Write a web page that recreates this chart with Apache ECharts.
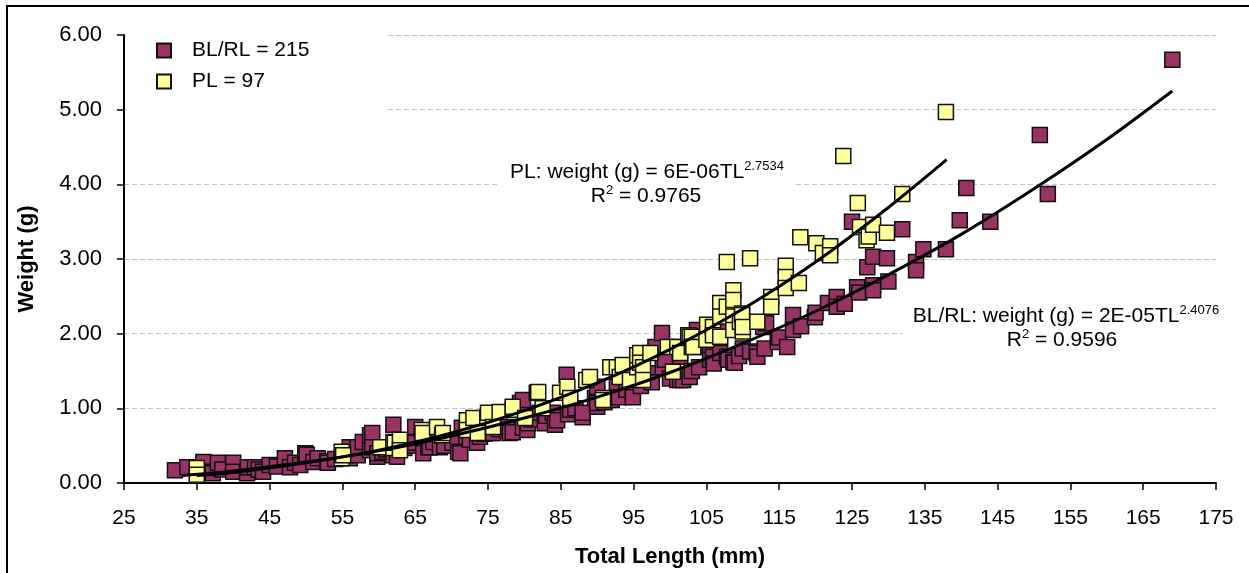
<!DOCTYPE html>
<html>
<head>
<meta charset="utf-8">
<script src="https://cdn.jsdelivr.net/npm/echarts@6/dist/echarts.min.js"></script>
<style>
html,body{margin:0;padding:0;background:#fff;}
#chart{width:1249px;height:573px;}
</style>
</head>
<body>
<div id="chart"></div>
<script>
// ---- data ----
const seriesNames = ['BL/RL = 215', 'PL = 97'];

const blrlPoints = [
  [32,0.17],[33.7,0.21],[35.9,0.28],[35.9,0.15],[37.2,0.13],[37.9,0.27],[38.5,0.18],[40,0.27],[40,0.15],
  [41.9,0.13],[42,0.21],[43,0.21],[43.5,0.18],[44.1,0.15],[45,0.24],[46,0.22],[47.1,0.33],[47.8,0.21],
  [48.5,0.27],[49.2,0.24],[49.9,0.40],[50.1,0.38],[51,0.28],[51.6,0.33],[52.9,0.29],[53,0.27],[54,0.32],
  [55,0.38],[56,0.48],[56,0.33],[57.1,0.37],[57.1,0.48],[57.8,0.55],[58.8,0.44],[58.8,0.64],[59.1,0.67],
  [59.1,0.48],[59.8,0.35],[59.8,0.40],[60.5,0.42],[61,0.45],[62,0.78],[62,0.37],[62.5,0.35],[63.5,0.47],
  [64,0.50],[65,0.75],[65,0.54],[66.1,0.40],[66.8,0.48],[67,0.48],[67.5,0.55],[68.4,0.48],[69,0.50],
  [70.1,0.54],[70.9,0.42],[71.2,0.40],[71.4,0.74],[72,0.62],[72.5,0.58],[73.5,0.54],[73.9,0.62],
  [74.5,0.66],[75.3,0.67],[75.7,0.67],[76.5,0.72],[77.6,0.71],[77.6,0.75],[78,0.67],[78.4,0.68],
  [79.4,1.07],[79.8,0.74],[79.8,1.11],[80.4,0.71],[80.5,0.80],[81,0.85],[81.7,1.21],[82.1,0.94],
  [82.8,0.80],[83,0.90],[83.9,0.94],[84.2,0.78],[84.5,0.84],[85.8,1.45],[86,0.92],[86.3,0.98],[87,1.00],
  [88,0.88],[88,0.94],[89.7,1.14],[90,1.21],[90,1.02],[90,1.29],[90,1.07],[91,1.08],[92,1.11],[92.7,1.29],
  [93,1.15],[94,1.25],[94.9,1.21],[94.9,1.15],[95.9,1.51],[96,1.30],[96.8,1.45],[97,1.47],[97.5,1.35],
  [98,1.82],[98.9,2.01],[99,1.55],[99.3,1.65],[100,1.40],[101,1.82],[101,1.38],[101.4,1.69],[101.4,1.38],
  [101.8,1.38],[102.7,1.42],[103,1.50],[103.7,2.05],[104,1.55],[105.1,1.82],[105.5,1.82],[105.5,1.65],
  [105.9,1.69],[106,1.60],[106.9,1.74],[107.3,2.09],[107.8,1.69],[108,1.65],[108.7,1.62],[108.9,1.61],
  [109.5,1.70],[110,1.80],[111,1.76],[111.9,1.74],[112,1.69],[112.8,2.09],[113,1.80],[113.2,2.14],
  [114.8,1.89],[115,1.95],[116.1,1.82],[116.9,2.25],[116.9,2.05],[118,2.10],[119.9,2.22],[120,2.28],
  [121.7,2.41],[122.9,2.49],[122.9,2.36],[124,2.40],[125,3.50],[125.7,2.62],[126,2.55],[127.1,2.89],
  [127.9,2.65],[127.9,2.58],[127.9,3.03],[129.8,3.01],[130,2.70],[131.9,3.40],[133.8,2.96],[133.8,2.85],
  [134.8,3.13],[137.9,3.13],[139.8,3.52],[140.7,3.95],[144,3.50],[150.8,4.66],[151.9,3.87],[169,5.67]
];

const plPoints = [
  [35,0.20],[35,0.11],[54.9,0.42],[54.9,0.33],[55.1,0.37],[60.2,0.48],[62,0.55],[62,0.47],[62.2,0.54],
  [62.9,0.58],[62.9,0.44],[65.9,0.71],[66,0.67],[68,0.75],[68.7,0.64],[68.8,0.67],[72.1,0.84],[72.1,0.71],
  [73,0.87],[73.6,0.67],[74.9,0.88],[75,0.94],[75.7,0.75],[76.6,0.95],[78.4,0.98],[78.4,1.02],[80.1,0.87],
  [81.9,1.22],[82.5,1.00],[84.9,1.21],[85.9,1.29],[86.3,1.14],[88.5,1.38],[89,1.42],[90.8,1.14],[90.8,1.11],
  [91.8,1.55],[92.7,1.55],[93.1,1.42],[93.5,1.58],[94.5,1.38],[95.5,1.55],[95.5,1.71],[95.9,1.74],[95.9,1.61],
  [96.3,1.55],[96.3,1.38],[97.3,1.74],[99.7,1.82],[100.4,1.49],[101,1.82],[101.4,1.74],[102.5,1.98],
  [102.7,1.96],[103,1.96],[103,1.82],[103.2,1.82],[105,1.92],[105.1,2.12],[105.9,2.09],[105.9,1.98],
  [106.9,2.41],[106.9,2.23],[106.9,1.96],[107.8,2.36],[107.8,2.96],[108.7,2.58],[108.7,2.45],[108.7,2.23],
  [108.7,2.05],[109.6,2.16],[109.9,2.27],[109.9,2.25],[110,2.03],[110,2.09],[111,3.01],[112,2.16],
  [113.9,2.49],[113.9,2.36],[115.9,2.91],[115.9,2.76],[115.9,2.61],[117.7,2.68],[117.9,3.29],[120.1,3.21],
  [121,3.08],[122,3.17],[122,3.05],[123.8,4.38],[125.8,3.75],[126.1,3.43],[127,3.25],[127.3,3.30],
  [127.9,3.46],[129.8,3.35],[131.9,3.87],[137.9,4.97]
];

// trend lines
const blrlTrendX = [33,40,50,60,70,80,90,100,110,120,130,140,150,160,169];
const blrlTrendY = [0.10,0.16,0.28,0.43,0.63,0.87,1.15,1.48,1.87,2.30,2.79,3.33,3.94,4.60,5.25];
const plTrendX = [35,40,50,60,70,80,90,100,110,120,130,138];
const plTrendY = [0.10,0.14,0.27,0.44,0.67,0.97,1.34,1.79,2.33,2.96,3.69,4.33];

const xTicks = {min: 25, max: 175, interval: 10};
const yTicks = {min: 0, max: 6, interval: 1};

const plEquation = 'PL: weight (g) = 6E-06TL';
const plExponent = '2.7534';
const plR2 = '0.9765';
const blEquation = 'BL/RL: weight (g) = 2E-05TL';
const blExponent = '2.4076';
const blR2 = '0.9596';

// ---- chart ----
const FONT = '"Liberation Sans", Arial, sans-serif';
const chart = echarts.init(document.getElementById('chart'), null, {renderer: 'canvas'});

const zip = (xs, ys) => xs.map((x, i) => [x, ys[i]]);

const eqRich = {
  m: {fontSize: 21, fontFamily: FONT, color: '#000', lineHeight: 24},
  s: {fontSize: 13, fontFamily: FONT, color: '#000', verticalAlign: 'top', lineHeight: 24, padding: [0,0,10,0]}
};

function eqText(x, y, content) {
  return {
    type: 'text', z: 1, silent: true, x: x, y: y,
    style: {text: content, rich: eqRich, align: 'center', verticalAlign: 'middle', fill: '#000'}
  };
}

const option = {
  animation: false,
  backgroundColor: '#fff',
  grid: {left: 124, right: 33, top: 35, bottom: 90, containLabel: false},
  legend: {
    orient: 'vertical',
    left: 126, top: 30,
    padding: [10, 76, 34, 30],
    backgroundColor: '#fff',
    itemWidth: 14, itemHeight: 14, itemGap: 10,
    icon: 'rect',
    data: seriesNames,
    textStyle: {fontSize: 21, fontFamily: FONT, color: '#000', padding: [0,0,0,16]}
  },
  xAxis: {
    type: 'value',
    min: xTicks.min, max: xTicks.max, interval: xTicks.interval,
    name: 'Total Length (mm)',
    nameLocation: 'middle', nameGap: 63,
    nameTextStyle: {fontSize: 22, fontWeight: 'bold', fontFamily: FONT, color: '#000'},
    axisLine: {show: true, onZero: false, lineStyle: {color: '#000', width: 2}},
    axisTick: {show: true, inside: false, length: 7, lineStyle: {color: '#000', width: 1.5}},
    axisLabel: {fontSize: 21, fontFamily: FONT, color: '#000', margin: 25},
    splitLine: {show: false}
  },
  yAxis: {
    type: 'value',
    min: yTicks.min, max: yTicks.max, interval: yTicks.interval,
    name: 'Weight (g)',
    nameLocation: 'middle', nameGap: 86,
    nameTextStyle: {fontSize: 22, fontWeight: 'bold', fontFamily: FONT, color: '#000'},
    axisLine: {show: true, onZero: false, lineStyle: {color: '#000', width: 2}},
    axisTick: {show: true, inside: false, length: 7, lineStyle: {color: '#000', width: 1.5}},
    axisLabel: {fontSize: 22, fontFamily: FONT, color: '#000', margin: 22, formatter: v => v.toFixed(2)},
    splitLine: {show: true, lineStyle: {color: '#c4c4c4', type: [5, 3], width: 1.2}}
  },
  series: [
    {
      name: seriesNames[0], type: 'scatter', symbol: 'rect', symbolSize: 15, z: 2,
      itemStyle: {color: '#993366', borderColor: '#111', borderWidth: 1.5, opacity: 1},
      data: blrlPoints
    },
    {
      name: seriesNames[1], type: 'scatter', symbol: 'rect', symbolSize: 15, z: 3,
      itemStyle: {color: '#FFFF99', borderColor: '#111', borderWidth: 1.5, opacity: 1},
      data: plPoints
    },
    {
      name: 'BL/RL trend', type: 'line', showSymbol: false, smooth: 0.3, z: 5,
      lineStyle: {color: '#000', width: 3}, data: zip(blrlTrendX, blrlTrendY), silent: true
    },
    {
      name: 'PL trend', type: 'line', showSymbol: false, smooth: 0.3, z: 5,
      lineStyle: {color: '#000', width: 3}, data: zip(plTrendX, plTrendY), silent: true
    }
  ],
  graphic: [
    {
      type: 'rect', z: 100, silent: true,
      shape: {x: 7, y: 6, width: 1260, height: 600},
      style: {fill: 'none', stroke: '#000', lineWidth: 2}
    },
    {
      type: 'rect', z: 1, silent: true,
      shape: {x: 500, y: 156, width: 296, height: 52},
      style: {fill: '#fff'}
    },
    eqText(647, 172, '{m|' + plEquation + '}{s|' + plExponent + '}'),
    eqText(646, 196, '{m|R}{s|2}{m| = ' + plR2 + '}'),
    {
      type: 'rect', z: 1, silent: true,
      shape: {x: 903, y: 300, width: 320, height: 55},
      style: {fill: '#fff'}
    },
    eqText(1066, 316, '{m|' + blEquation + '}{s|' + blExponent + '}'),
    eqText(1062, 340, '{m|R}{s|2}{m| = ' + blR2 + '}')
  ]
};
chart.setOption(option);
</script>
</body>
</html>
